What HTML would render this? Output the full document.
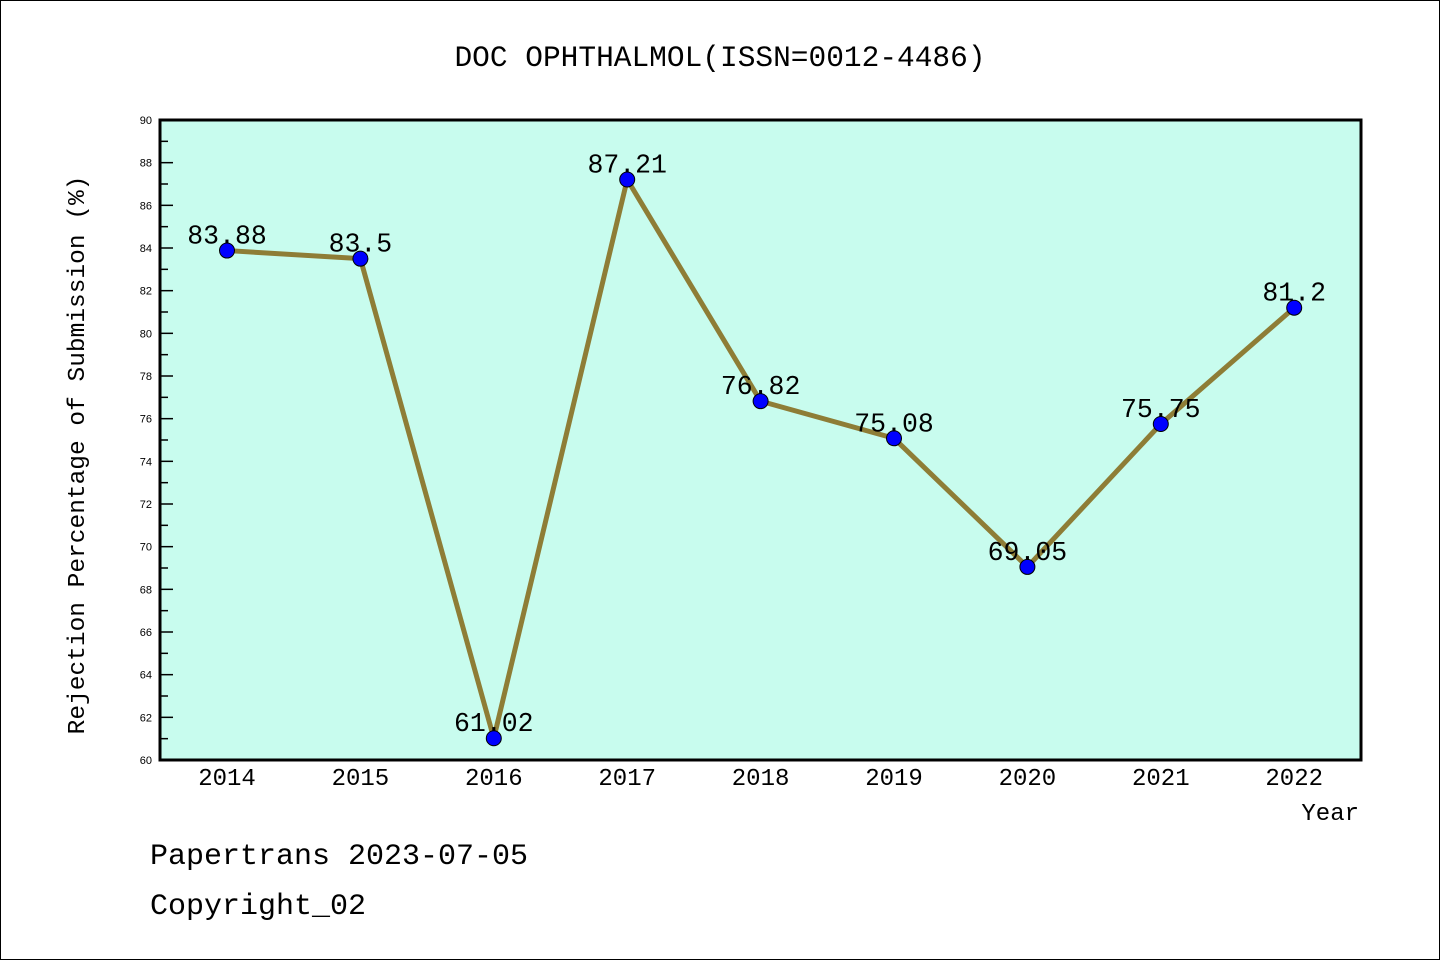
<!DOCTYPE html>
<html><head><meta charset="utf-8"><style>
body{margin:0;background:#fff}
svg{display:block}
text{font-family:"Liberation Mono",monospace;fill:#000}
</style></head><body>
<svg width="1440" height="960" xmlns="http://www.w3.org/2000/svg">
<rect x="0.5" y="0.5" width="1439" height="959" fill="#fff" stroke="#000"/>
<text x="720" y="66" font-size="29.5" text-anchor="middle">DOC OPHTHALMOL(ISSN=0012-4486)</text>
<rect x="160" y="120" width="1201" height="640" fill="#c8fcee" stroke="#000" stroke-width="3"/>
<g id="yticks"></g><g id="xticks"></g><g id="series"></g>
<text transform="translate(84,455) rotate(-90)" font-size="24.5" text-anchor="middle">Rejection Percentage of Submission (%)</text>
<text x="1359" y="820" font-size="24" text-anchor="end">Year</text>
<text x="150" y="864" font-size="30">Papertrans 2023-07-05</text>
<text x="150" y="914" font-size="30">Copyright_02</text>
</svg>
<script>
const years=["2014","2015","2016","2017","2018","2019","2020","2021","2022"];
const values=[83.88,83.5,61.02,87.21,76.82,75.08,69.05,75.75,81.2];
const labels=["83.88","83.5","61.02","87.21","76.82","75.08","69.05","75.75","81.2"];
const yTicks=[60,62,64,66,68,70,72,74,76,78,80,82,84,86,88,90];
const NS="http://www.w3.org/2000/svg";
const yMin=60,yMax=90;
function ys(v){return 760-(v-yMin)/(yMax-yMin)*640;}
function xs(i){return 227+i*133.4;}
function mk(t,a,p){const e=document.createElementNS(NS,t);for(const k in a)e.setAttribute(k,a[k]);p.appendChild(e);return e;}
const yg=document.getElementById('yticks');
for(let v=yMin;v<=yMax;v++){
  const l=mk('line',{x1:160,x2:v%2===0?173:168,y1:ys(v),y2:ys(v),stroke:'#000','stroke-width':1.5},yg);
  
  
}
yTicks.forEach(v=>{
  const t=mk('text',{x:152,y:ys(v)+4,'font-size':11,'text-anchor':'end',style:'font-family:"Liberation Sans",sans-serif'},yg);
  t.textContent=v;
  
  
});
const xg=document.getElementById('xticks');
years.forEach((y,i)=>{
  const t=mk('text',{x:xs(i),y:785,'font-size':24,'text-anchor':'middle'},xg);
  t.textContent=y;
  
  
});
const sg=document.getElementById('series');
const pl=mk('polyline',{points:values.map((v,i)=>xs(i)+','+ys(v)).join(' '),fill:'none',stroke:'#8e7d36','stroke-width':5,'stroke-linejoin':'round'},sg);


values.forEach((v,i)=>{
  const c=mk('circle',{cx:xs(i),cy:ys(v),r:7.5,fill:'#0000ff',stroke:'#000','stroke-width':1},sg);
  
  
  const t=mk('text',{x:xs(i),y:ys(v)-7,'font-size':26.5,'text-anchor':'middle'},sg);
  t.textContent=labels[i];
  
  
});
</script>
</body></html>
